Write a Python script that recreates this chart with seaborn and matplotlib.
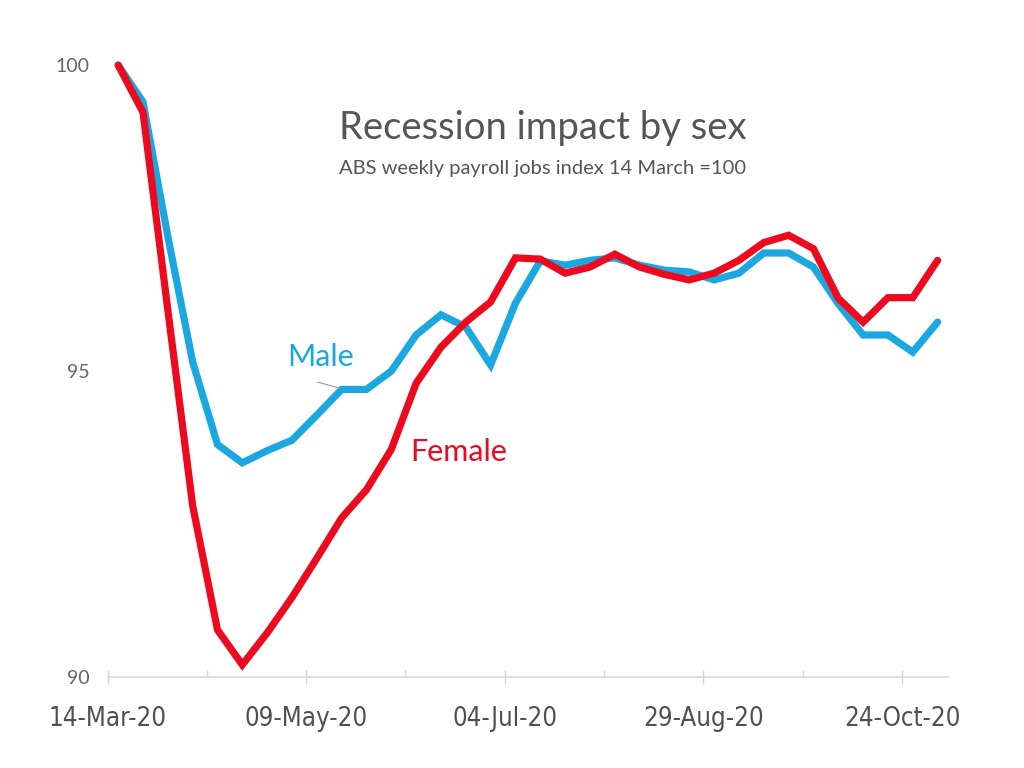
import matplotlib

matplotlib.use("Agg")

import matplotlib.pyplot as plt
import numpy as np
import pandas as pd
import seaborn as sns

# weekly payroll jobs index, 14 March 2020 = 100
weeks = pd.date_range("2020-03-14", periods=34, freq="7D")
male = [100.0, 99.4, 97.2, 95.15, 93.8, 93.5, 93.7, 93.87, 94.28, 94.7,
        94.7, 95.0, 95.59, 95.92, 95.72, 95.1, 96.11, 96.8, 96.73, 96.81,
        96.85, 96.73, 96.65, 96.62, 96.49, 96.6, 96.93, 96.93, 96.7, 96.1,
        95.59, 95.59, 95.31, 95.8]
female = [100.0, 99.23, 96.0, 92.8, 90.77, 90.2, 90.72, 91.3, 91.94, 92.6,
          93.06, 93.72, 94.8, 95.39, 95.8, 96.13, 96.85, 96.83, 96.6, 96.7,
          96.91, 96.7, 96.58, 96.49, 96.6, 96.81, 97.1, 97.22, 97.0, 96.19,
          95.8, 96.2, 96.2, 96.81]
y_ticks = [90, 95, 100]

blue = "#1ba8e0"
red = "#ee0a1e"
grey_text = "#555555"

sns.set_theme(style="white")
plt.rcParams["font.family"] = ["Lato", "DejaVu Sans"]

df = pd.DataFrame({"week": weeks, "Male": male, "Female": female})

fig = plt.figure(figsize=(10.24, 7.68), dpi=100)
ax = fig.add_axes([0.105, 0.1185, 0.821, 0.8365])

sns.lineplot(data=df, x="week", y="Male", ax=ax, color=blue, linewidth=5.2,
             solid_joinstyle="miter", clip_on=False)
sns.lineplot(data=df, x="week", y="Female", ax=ax, color=red, linewidth=5.2,
             solid_joinstyle="miter", clip_on=False)

half = pd.Timedelta(days=3)
ax.set_xlim(weeks[0] - half, weeks[-1] + half)
ax.set_ylim(90, 100.5)

major = pd.date_range(weeks[0], periods=5, freq="56D")
minor = pd.date_range(weeks[0] + pd.Timedelta(days=28), periods=4, freq="56D")
ax.set_xticks(major - half)
ax.set_xticklabels([d.strftime("%d-%b-%y") for d in major],
                   family="DejaVu Sans", fontstretch="condensed",
                   fontsize=18.5, color="#505050")
ax.set_xticks(minor - half, minor=True)
ax.tick_params(axis="x", which="major", direction="inout", length=10,
               width=1, color="#d6d6d6", pad=16, bottom=True)
ax.tick_params(axis="x", which="minor", direction="in", length=5,
               width=1, color="#d6d6d6", bottom=True)

ax.set_yticks(y_ticks)
ax.set_yticklabels([str(v) for v in y_ticks], fontsize=14, color="#666666")
ax.tick_params(axis="y", length=0, pad=13)

for side in ["top", "right", "left"]:
    ax.spines[side].set_visible(False)
ax.spines["bottom"].set_color("#d6d6d6")
ax.spines["bottom"].set_linewidth(1.2)
ax.set_xlabel("")
ax.set_ylabel("")
ax.grid(False)

fig.text(0.53, 0.833, "Recession impact by sex", ha="center", va="center",
         fontsize=27.5, color=grey_text)
fig.text(0.53, 0.781, "ABS weekly payroll jobs index 14 March =100",
         ha="center", va="center", fontsize=14.5, color=grey_text)

ax.text(weeks[8] + pd.Timedelta(days=1), 95.23, "Male", ha="center",
        va="center", fontsize=22, color=blue)
ax.plot([weeks[8] + pd.Timedelta(days=0.2), weeks[9] - pd.Timedelta(days=0.5)],
        [94.82, 94.72], color="#999999", linewidth=0.8)
ax.text(weeks[13] + pd.Timedelta(days=5), 93.68, "Female", ha="center",
        va="center", fontsize=22, color=red)

fig.savefig("out.png", dpi=100)
